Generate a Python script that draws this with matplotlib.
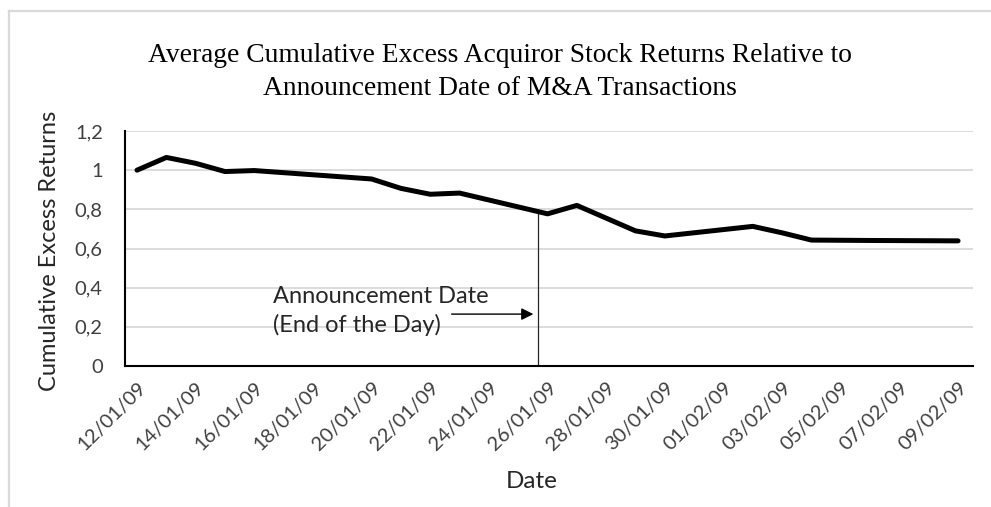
#!/usr/bin/env python
"""Average cumulative excess acquiror stock returns around announcement."""

import numpy as np
import pandas as pd
import matplotlib
matplotlib.use('Agg')
import matplotlib.pyplot as plt
import matplotlib.dates as mdates
import matplotlib.ticker as mticker
from matplotlib.lines import Line2D


# Data
# ----

dates = ['12/01/09', '13/01/09', '14/01/09', '15/01/09', '16/01/09',
         '20/01/09', '21/01/09', '22/01/09', '23/01/09', '26/01/09',
         '27/01/09', '28/01/09', '29/01/09', '30/01/09', '02/02/09',
         '03/02/09', '04/02/09', '05/02/09', '06/02/09', '09/02/09']
returns = [1.0, 1.065, 1.035, 0.993, 0.998,
           0.955, 0.907, 0.877, 0.883, 0.777,
           0.82, 0.755, 0.69, 0.664, 0.713,
           0.68, 0.643, 0.642, 0.641, 0.639]
yticks = [0, 0.2, 0.4, 0.6, 0.8, 1.0, 1.2]
announce = '25/01/09 16:30'
title = ('Average Cumulative Excess Acquiror Stock Returns Relative to\n'
         'Announcement Date of M&A Transactions')


# Figure
# ------

def main():
    """Draw the figure and save it."""

    x = pd.to_datetime(dates, format='%d/%m/%y')
    t0 = pd.to_datetime(announce, format='%d/%m/%y %H:%M')
    day = pd.Timedelta(days=1)

    W, H = 991, 507
    fig = plt.figure(figsize=(W/100, H/100), dpi=100)
    ax = fig.add_axes([125/W, 1-366/H, (973-125)/W, (366-131)/H])

    # gridlines and spines
    ax.set_ylim(0, 1.2)
    ax.set_yticks(yticks)
    ax.yaxis.set_major_formatter(mticker.FuncFormatter(
        lambda v, pos: '{:g}'.format(round(v, 1)).replace('.', ',')))
    ax.grid(axis='y', color='#d9d9d9', lw=1.3)
    ax.set_axisbelow(True)
    for side in ['top', 'right']:
        ax.spines[side].set_visible(False)
    for side in ['left', 'bottom']:
        ax.spines[side].set_color('black')
        ax.spines[side].set_linewidth(1.5)

    # date axis
    ticks = pd.date_range(x[0], x[-1], freq='2D')
    ax.set_xticks(ticks)
    ax.xaxis.set_major_formatter(mdates.DateFormatter('%d/%m/%y'))
    ax.set_xlim(x[0] - 0.41*day, x[-1] + 0.51*day)
    ax.tick_params(axis='both', length=0, labelsize=14.5,
                   labelcolor='#404040')
    ax.tick_params(axis='y', pad=16)
    ax.tick_params(axis='x', pad=9)
    for lab in ax.get_xticklabels():
        lab.set_rotation(45)
        lab.set_ha('right')
        lab.set_rotation_mode('anchor')
        lab.set_family('Lato')
    for lab in ax.get_yticklabels():
        lab.set_family('Lato')

    # returns line
    ax.plot(x, returns, color='black', lw=3.6, solid_joinstyle='round',
            solid_capstyle='round', zorder=3)

    # announcement marker
    xnum = mdates.date2num(x)
    tnum = mdates.date2num(t0)
    ax.vlines(t0, 0, np.interp(tnum, xnum, returns), color='#262626',
              lw=0.9, zorder=2)
    ax.annotate('', xy=(t0 - 0.17*day, 0.265),
                xytext=(x[0] + 10.73*day, 0.265),
                arrowprops=dict(arrowstyle='-|>', color='black', lw=1.0,
                                mutation_scale=18, shrinkA=0, shrinkB=0))
    ax.text(x[0] + 4.64*day, 0.281, 'Announcement Date\n(End of the Day)',
            ha='left', va='center', fontsize=17, family='Lato',
            color='#262626', linespacing=1.42)

    # titles and labels
    fig.text(500/W, 1-72/H, title, ha='center', va='center', fontsize=19.8,
             family='Liberation Serif', color='black', linespacing=1.38)
    fig.text(50/W, 1-251/H, 'Cumulative Excess Returns', rotation=90,
             ha='center', va='center', fontsize=17, family='Lato',
             color='#262626')
    fig.text(532/W, 1-482/H, 'Date', ha='center', va='center', fontsize=17.5,
             family='Lato', color='#262626')

    # chart frame
    fig.add_artist(Line2D([9/W, 1], [1-11/H, 1-11/H], color='#d9d9d9',
                          lw=1.6, transform=fig.transFigure))
    fig.add_artist(Line2D([9/W, 9/W], [0, 1-11/H], color='#d9d9d9',
                          lw=1.6, transform=fig.transFigure))

    fig.savefig('out.png', dpi=100, facecolor='white')
    plt.close(fig)


if __name__ == '__main__':
    main()
